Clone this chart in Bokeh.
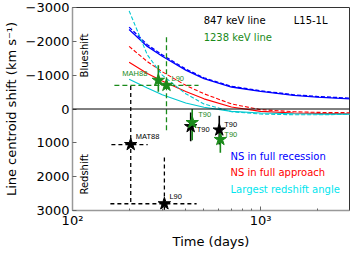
import numpy as np
from bokeh.plotting import figure
from bokeh.models import Range1d, FixedTicker, ColumnDataSource, Span, Label
from bokeh.embed import file_html
from bokeh.resources import INLINE

# model curves (days vs centroid shift, km/s; negative = blueshift)
t_model = [200, 250, 300, 400, 500, 700, 1000, 1500, 2000, 3000]
recession_847 = [-2350, -1850, -1560, -1150, -900, -650, -520, -400, -350, -300]
recession_1238 = [-2420, -1900, -1600, -1180, -920, -670, -540, -420, -370, -320]
approach_847 = [-1380, -1050, -830, -520, -300, -60, 70, 120, 130, 140]
approach_1238 = [-1850, -1400, -1100, -700, -450, -150, 20, 80, 100, 110]
largest_847 = [-880, -620, -420, -180, -50, 70, 120, 140, 150, 150]
largest_1238 = [-2900, -1600, -1000, -450, -150, 80, 150, 170, 170, 160]

# measurements, 847 keV line (black)
lab_847 = ["MAT88", "L90", "T90", "T90"]
t_847 = [204, 308, 425, 603]
v_847 = [1050, 2800, 520, 620]
v_lo_847 = [-680, 1430, 100, 200]
v_hi_847 = [2800, 3100, 950, 1050]
t_lo_847 = [161, 159]
t_hi_847 = [251, 457]

# measurements, 1238 keV line (green)
lab_1238 = ["MAH88", "L90", "T90", "T90"]
t_1238 = [286, 316, 433, 611]
v_1238 = [-850, -700, 400, 900]
v_lo_1238 = [-1290, -2120, 0, 620]
v_hi_1238 = [-510, 720, 920, 1290]
t_lo_1238 = [167]
t_hi_1238 = [468]

GREEN = "#1a8a1a"
CYAN = "#00c8d0"
FONT = "DejaVu Sans"

p = figure(frame_width=277, frame_height=203, x_axis_type="log",
           x_range=Range1d(100, 2970), y_range=Range1d(3000, -3000),
           output_backend="svg", toolbar_location=None,
           min_border_left=63, min_border_right=1, min_border_top=7, min_border_bottom=33)
p.outline_line_color = "#333333"
p.grid.visible = False
p.background_fill_color = "white"
p.border_fill_color = "white"

p.xaxis.ticker = FixedTicker(ticks=[100, 1000],
                             minor_ticks=[200, 300, 400, 500, 600, 700, 800, 900, 2000, 3000])
p.xaxis.major_label_overrides = {100: "10²", 1000: "10³"}
p.yaxis.ticker = FixedTicker(ticks=[-3000, -2000, -1000, 0, 1000, 2000, 3000], minor_ticks=[])
for ax in (p.xaxis[0], p.yaxis[0]):
    ax.axis_line_color = "#999999"
    ax.axis_line_width = 1.5
    ax.major_tick_in = 4
    ax.major_tick_out = 0
    ax.minor_tick_in = 2
    ax.minor_tick_out = 0
    ax.major_tick_line_color = "#666666"
    ax.minor_tick_line_color = "#666666"
    ax.major_label_text_font = FONT
    ax.major_label_text_font_size = "13px"
    ax.major_label_text_color = "black"
    ax.axis_label_text_font = FONT
    ax.axis_label_text_font_size = "13px"
    ax.axis_label_text_font_style = "normal"
    ax.axis_label_text_color = "black"
p.xaxis.axis_label = "Time (days)"
p.yaxis.axis_label = "Line centroid shift (km s⁻¹)"
p.xaxis.major_label_standoff = 2
p.yaxis.major_label_standoff = 3
p.xaxis.axis_label_standoff = 3
p.yaxis.axis_label_standoff = 4

p.add_layout(Span(location=0, dimension="width", line_color="black", line_width=1))

# model curves
p.line(t_model, recession_847, line_color="blue", line_width=1.3)
p.line(t_model, recession_1238, line_color="blue", line_width=1.3, line_dash="4 2")
p.line(t_model, approach_847, line_color="red", line_width=1.1)
p.line(t_model, approach_1238, line_color="red", line_width=1.1, line_dash="4 2")
p.line(t_model, largest_847, line_color=CYAN, line_width=1.1)
p.line(t_model, largest_1238, line_color=CYAN, line_width=1.1, line_dash="4 2")

# error bars, 847 keV
n_lim = len(t_lo_847)
p.segment(t_847[:n_lim], v_lo_847[:n_lim], t_847[:n_lim], v_hi_847[:n_lim],
          line_color="black", line_width=1.3, line_dash="4 3")
p.segment(t_lo_847, v_847[:n_lim], t_hi_847, v_847[:n_lim],
          line_color="black", line_width=1.3, line_dash="4 3")
p.segment(t_847[n_lim:], v_lo_847[n_lim:], t_847[n_lim:], v_hi_847[n_lim:],
          line_color="black", line_width=1.6)

# error bars, 1238 keV
p.segment(t_1238[:1], v_lo_1238[:1], t_1238[:1], v_hi_1238[:1], line_color=GREEN, line_width=1.6)
p.segment(t_1238[1:2], v_lo_1238[1:2], t_1238[1:2], v_hi_1238[1:2],
          line_color=GREEN, line_width=1.3, line_dash="5 3")
p.segment(t_lo_1238, v_1238[1:2], t_hi_1238, v_1238[1:2],
          line_color=GREEN, line_width=1.3, line_dash="5 3")
p.segment(t_1238[2:], v_lo_1238[2:], t_1238[2:], v_hi_1238[2:], line_color=GREEN, line_width=1.6)

# star markers
p.scatter(t_847, v_847, marker="star", size=13, fill_color="black", line_color="black")
p.scatter(t_1238, v_1238, marker="star", size=13, fill_color=GREEN, line_color=GREEN)

# point labels
src847 = ColumnDataSource(dict(x=t_847, y=v_847, t=lab_847,
                               dx=[5, 5, 6, 5], dy=[-8, -7, 3, -5]))
src1238 = ColumnDataSource(dict(x=t_1238, y=v_1238, t=lab_1238,
                                dx=[-36, 5, 6, 4], dy=[-7, -7, -8, -5]))
p.text("x", "y", text="t", x_offset="dx", y_offset="dy", source=src847,
       text_font_size="7.5px", text_color="black", text_baseline="middle")
p.text("x", "y", text="t", x_offset="dx", y_offset="dy", source=src1238,
       text_font_size="7.5px", text_color=GREEN, text_baseline="middle")

# annotations (data coordinates)
def lab(x, y, txt, color="black", size="10px", angle=0, align="left"):
    p.add_layout(Label(x=x, y=y, text=txt,
                       text_color=color, text_font_size=size, angle=angle,
                       text_align=align, text_baseline="middle", text_font=FONT))

lab(498, -2620, "847 keV line")
lab(1500, -2620, "L15-1L")
lab(498, -2100, "1238 keV line", color=GREEN)
lab(692, 1400, "NS in full recession", color="blue")
lab(692, 1870, "NS in full approach", color="red")
lab(692, 2390, "Largest redshift angle", color="#00e5ee")
lab(116, -1580, "Blueshift", angle=np.pi / 2, align="center")
lab(116, 1930, "Redshift", angle=np.pi / 2, align="center")

open("out.html", "w").write(file_html(p, INLINE))
